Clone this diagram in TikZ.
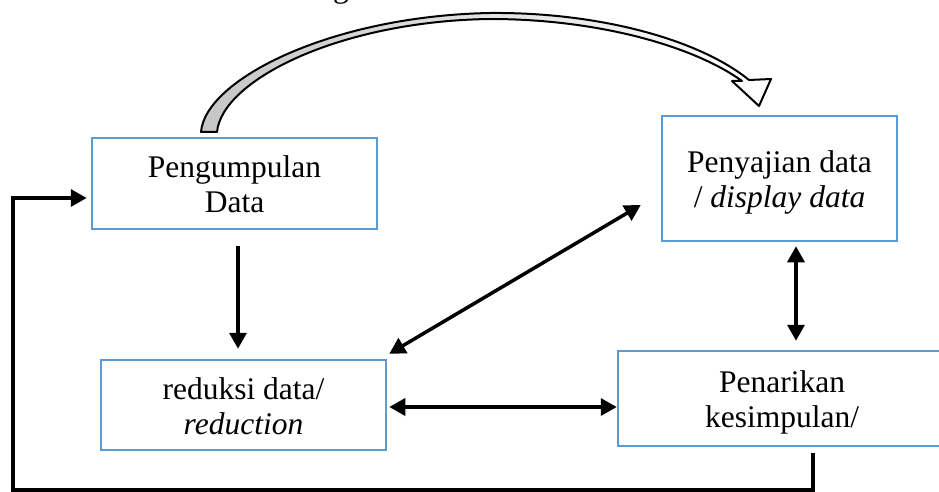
\documentclass[tikz,border=0pt]{standalone}
\usepackage{fontspec}
\setmainfont{Liberation Serif}
\usetikzlibrary{arrows.meta,calc}
\definecolor{boxblue}{HTML}{5B9BD5}
\begin{document}
\begin{tikzpicture}[x=1pt,y=-1pt,
  box/.style={draw=boxblue,line width=2.5pt,inner sep=0pt},
  txt/.style={font=\fontsize{31.5}{35}\selectfont,align=center,inner sep=0pt},
  arr/.style={line width=3.5pt,-{Triangle[length=16pt,width=17pt]}},
  darr/.style={line width=3.5pt,{Triangle[length=16pt,width=17pt]}-{Triangle[length=16pt,width=17pt]}},
  blockarrow/.style={draw=black,line width=2pt,line join=round,left color=gray!45,right color=white}
]
\useasboundingbox (0,0) rectangle (939,492);
\clip (0,0) rectangle (939,492);
\fill[white] (0,0) rectangle (939,492);

% cut-off text fragment at the top
\node[txt,anchor=base] (g) at (341,-2) {g};

% boxes
\node[box,minimum width=285pt,minimum height=91pt] (b1) at (234.5,183.5) {};
\node[txt] (t1) at (234.5,184.7) {Pengumpulan\\Data};
\node[box,minimum width=285pt,minimum height=90pt] (b2) at (243.5,405) {};
\node[txt] (t2) at (243.5,406.7) {reduksi data/\\\textit{reduction}};
\node[box,minimum width=235pt,minimum height=125pt] (b3) at (779.5,178.5) {};
\node[txt] (t3) at (779.5,182.7) {Penyajian data\\/ \textit{display data}};
\node[box,minimum width=328pt,minimum height=95pt] (b4) at (782,398.5) {};
\node[txt] (t4) at (782,402.7) {Penarikan\\kesimpulan/};

% curved block arrow
\path[blockarrow]
  (201,132) .. controls (205,80) and (330,16) .. (490,13)
  .. controls (600,12) and (700,40) .. (749,80)
  -- (771,79) -- (759,106) -- (732,81) -- (742,81)
  .. controls (695,47) and (600,19) .. (490,19)
  .. controls (340,21) and (222,80) .. (217,132) -- cycle;

% connectors
\draw[arr] ([xshift=3.5pt,yshift=-16pt]b1.south) -- ([xshift=-5.5pt,yshift=10pt]b2.north);
\draw[darr] ([xshift=2pt,yshift=5pt]b2.north east) -- ([xshift=-20pt,yshift=-26.5pt]b3.west);
\draw[darr] ([xshift=2pt,yshift=-2pt]b2.east) -- ([yshift=-8.5pt]b4.west);
\draw[darr] ([xshift=16.5pt,yshift=-4pt]b3.south) -- ([xshift=14pt,yshift=9pt]b4.north);
\coordinate (fb) at (13,490);
\draw[arr] ([xshift=31pt,yshift=-6pt]b4.south) |- (fb) |- ([xshift=-4pt,yshift=-14.5pt]b1.west);
\end{tikzpicture}
\end{document}
